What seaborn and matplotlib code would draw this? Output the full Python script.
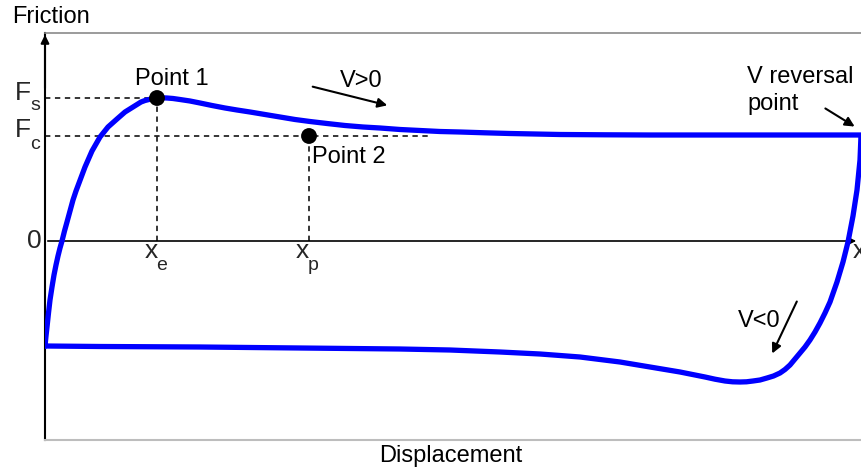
import matplotlib
matplotlib.use("Agg")
import matplotlib.pyplot as plt
import seaborn as sns
import pandas as pd

sns.set_style("white")
plt.rcParams["font.family"] = ["Liberation Sans", "DejaVu Sans"]

# Friction-displacement loop (displacement, friction), traced in drawing order:
# loading branch (V>0) up to the reversal point, then the unloading branch (V<0)
displacement = [0, 1, 2, 3.5, 5, 7, 9, 11, 13, 15, 17, 19.5, 22, 25, 28, 31, 34, 37, 40,
                43.5, 47, 51, 55, 59, 63, 67.5, 72, 76, 80, 84, 88, 92, 96, 100, 104,
                108, 112, 117, 122, 128, 135, 145, 155, 167, 180, 192, 205, 220, 235,
                250, 265, 282, 300, 318, 335, 355, 375, 395, 415, 440, 465, 490, 515,
                560, 605, 715, 816,
                815.5, 815, 813.5, 812, 810, 808, 805.5, 803, 800.5, 798, 795, 792,
                788.5, 785, 780, 775, 770, 765, 760, 755, 750, 745, 740, 735, 728.5,
                722, 715, 708, 701.5, 695, 687.5, 680, 670, 660, 647.5, 635, 620, 605,
                590, 575, 555, 535, 515, 495, 475, 455, 430, 405, 355, 255, 155, 55, 0]
friction = [-105, -95, -86, -72, -59, -46, -34, -24, -15, -7, 0, 10, 19, 30, 41, 50, 58,
            66, 74, 82, 90, 97, 104, 109, 114, 118, 122, 125.5, 129, 131.5, 134, 136.5,
            139, 140.5, 141.5, 142.5, 143, 143.2, 143, 142.5, 141.5, 140, 138, 135.5,
            133, 131, 129, 126.5, 124, 121.5, 119.5, 117.5, 115.5, 114, 113, 111.5,
            110.5, 109.5, 109, 108.2, 107.5, 107, 106.5, 106.2, 106, 106, 106,
            93, 81, 66, 51, 38, 25, 12, -1, -11, -21, -31, -41, -51, -61, -72, -82,
            -91, -99, -106, -112, -118, -124, -128.5, -132, -135, -137, -139, -140,
            -140.8, -141, -140.8, -140, -138.2, -136, -133.5, -131, -128.5, -126,
            -123.5, -121, -118.5, -116, -114.5, -113, -112, -111, -110, -109, -108,
            -107, -106, -105.5, -105]

# Static (Fs) and Coulomb (Fc) friction levels and the marked points
F_s, F_c = 143, 105
x_e, x_p = 112, 264
points = pd.DataFrame({"x": [x_e, x_p], "y": [F_s, F_c], "name": ["Point 1", "Point 2"]})

loop = pd.DataFrame({"displacement": displacement, "friction": friction})

fig = plt.figure(figsize=(8.61, 4.70), dpi=100)
ax = fig.add_axes([45 / 861, 30 / 470, 816 / 861, 407 / 470])
ax.set_xlim(0, 816)
ax.set_ylim(-199, 208)

sns.lineplot(data=loop, x="displacement", y="friction", sort=False, estimator=None,
             color="#0000ff", lw=3.8, ax=ax, zorder=3)
ax.lines[-1].set_solid_joinstyle("round")

# Dashed guide lines
dash = dict(color="black", lw=1.1, ls=(0, (3.5, 3)), zorder=2)
ax.plot([0, x_e], [F_s, F_s], **dash)
ax.plot([x_e, x_e], [0, F_s], **dash)
ax.plot([0, 385], [F_c, F_c], **dash)
ax.plot([x_p, x_p], [0, F_c], **dash)

sns.scatterplot(data=points, x="x", y="y", color="black", s=130, ax=ax, zorder=5,
                edgecolor="none")

# Zero axis with arrow head
ax.annotate("", xy=(814, 0), xytext=(0, 0),
            arrowprops=dict(arrowstyle="-|>", color="black", lw=1.2, mutation_scale=12),
            zorder=1)
# Vertical axis arrow head
ax.annotate("", xy=(0, 209), xytext=(0, 150), annotation_clip=False,
            arrowprops=dict(arrowstyle="-|>", color="black", lw=1.5, mutation_scale=12))

# Direction arrows
arr = dict(arrowstyle="-|>", color="black", lw=1.5, mutation_scale=14)
ax.annotate("", xy=(345, 135), xytext=(265, 155), arrowprops=arr)
ax.annotate("", xy=(812, 113), xytext=(778, 134), arrowprops=arr)
ax.annotate("", xy=(726, -115), xytext=(753, -58), arrowprops=arr)

fs = 17
txt = dict(fontsize=fs, color="black", clip_on=False)
ax.text(90, 156, "Point 1", ha="left", va="baseline", **txt)
ax.text(267, 78, "Point 2", ha="left", va="baseline", **txt)
ax.text(295, 154, "V>0", ha="left", va="baseline", **txt)
ax.text(702, 158, "V reversal", ha="left", va="baseline", **txt)
ax.text(702, 131, "point", ha="left", va="baseline", **txt)
ax.text(693, -86, "V<0", ha="left", va="baseline", **txt)
ax.text(-33, 224, "Friction", ha="left", va="center", **txt)
ax.text(406, -215, "Displacement", ha="center", va="center", **txt)

# Axis symbols with subscripts
big, small = 19, 14
ax.text(-3, 0, "0", ha="right", va="center", fontsize=big, clip_on=False)
ax.text(-30, 141, "F", ha="left", va="baseline", fontsize=big, clip_on=False)
ax.text(-15, 131, "s", ha="left", va="baseline", fontsize=small, clip_on=False)
ax.text(-30, 104, "F", ha="left", va="baseline", fontsize=big, clip_on=False)
ax.text(-15, 92, "c", ha="left", va="baseline", fontsize=small, clip_on=False)
ax.text(106, -17, "x", ha="center", va="baseline", fontsize=big, clip_on=False)
ax.text(117, -29, "e", ha="center", va="baseline", fontsize=small, clip_on=False)
ax.text(257, -17, "x", ha="center", va="baseline", fontsize=big, clip_on=False)
ax.text(268, -29, "p", ha="center", va="baseline", fontsize=small, clip_on=False)
ax.text(808, -17, "x", ha="left", va="baseline", fontsize=big, clip_on=False)

ax.set_xticks([])
ax.set_yticks([])
ax.set_xlabel("")
ax.set_ylabel("")
ax.spines["right"].set_visible(False)
ax.spines["left"].set_color("black")
ax.spines["left"].set_linewidth(1.5)
ax.spines["top"].set_color("#8a8a8a")
ax.spines["top"].set_linewidth(1.2)
ax.spines["bottom"].set_color("#bdbdbd")
ax.spines["bottom"].set_linewidth(1.5)

fig.savefig("out.png", dpi=100)
